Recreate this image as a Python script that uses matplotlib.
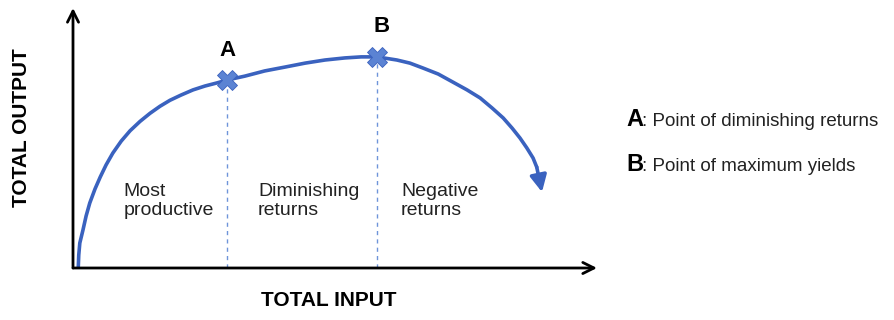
import matplotlib
matplotlib.use("Agg")
import matplotlib.pyplot as plt

plt.rcParams['font.family'] = ['Liberation Sans', 'DejaVu Sans']

# total product curve (input, output on a 0..10 scale)
total_input = [0.10, 0.11, 0.13, 0.19, 0.25, 0.32, 0.42, 0.52, 0.63, 0.76, 0.92,
               1.09, 1.28, 1.47, 1.66, 1.85, 2.06, 2.29, 2.52, 2.75, 2.94, 3.28,
               3.66, 4.05, 4.43, 4.81, 5.19, 5.50, 5.80, 6.18, 6.43, 6.68, 6.97,
               7.25, 7.52, 7.77, 8.00, 8.21, 8.38, 8.53, 8.66, 8.78, 8.85, 8.95]
total_output = [0.00, 0.50, 0.96, 1.46, 2.00, 2.50, 3.04, 3.50, 3.96, 4.42, 4.88,
                5.28, 5.64, 5.95, 6.22, 6.45, 6.65, 6.85, 7.00, 7.12, 7.23, 7.38,
                7.58, 7.73, 7.88, 8.00, 8.08, 8.12, 8.12, 8.00, 7.88, 7.69, 7.46,
                7.15, 6.85, 6.54, 6.15, 5.77, 5.38, 5.00, 4.62, 4.23, 3.88, 2.92]

point_names = ['A', 'B']
point_input = [2.94, 5.80]
point_output = [7.23, 8.12]
point_desc = ['Point of diminishing returns', 'Point of maximum yields']

stage_labels = ['Most\nproductive', 'Diminishing\nreturns', 'Negative\nreturns']
stage_x = [0.97, 3.53, 6.26]

BLUE = '#3A62BF'
MARK = '#5B83D3'
DASH = '#6F94DA'

fig = plt.figure(figsize=(8.94, 3.2), dpi=100)
ax = fig.add_axes([73 / 894, 52 / 320, 524 / 894, 260 / 320])
ax.set_xlim(0, 10)
ax.set_ylim(0, 10)
ax.axis('off')

# axes with open arrowheads
for tip in [(1, 0), (0, 1)]:
    ax.annotate('', xy=tip, xytext=(0, 0), xycoords='axes fraction',
                arrowprops=dict(arrowstyle='->', color='black', lw=2, mutation_scale=20,
                                shrinkA=0, shrinkB=0))

# curve and its arrowhead
ax.plot(total_input[:-1], total_output[:-1], color=BLUE, lw=2.6,
        solid_capstyle='round', solid_joinstyle='round')
ax.annotate('', xy=(total_input[-1], total_output[-1]),
            xytext=(total_input[-2], total_output[-2]),
            arrowprops=dict(arrowstyle='-|>', color=BLUE, lw=2.6, mutation_scale=25,
                            shrinkA=0, shrinkB=0))

# dashed drop lines and markers
for px, py in zip(point_input, point_output):
    ax.plot([px, px], [0, py], color=DASH, lw=1, ls=(0, (3, 3)))
ax.plot(point_input, point_output, ls='none', marker='X', markersize=14,
        color=MARK, markeredgecolor=BLUE, markeredgewidth=0.6)

for name, px, py in zip(point_names, point_input, point_output):
    ax.text(px + (0.08 if name == 'B' else 0), py + 0.75, name, ha='center', va='bottom',
            fontsize=16, fontweight='bold')

for lab, sx in zip(stage_labels, stage_x):
    ax.text(sx, 3.25, lab, ha='left', va='top', fontsize=14, color='#222222',
            linespacing=1.12)

fig.text(22 / 894, 1 - 128 / 320, 'TOTAL OUTPUT', rotation=90, ha='center', va='center',
         fontsize=15, fontweight='bold')
fig.text(329 / 894, 1 - 300 / 320, 'TOTAL INPUT', ha='center', va='center',
         fontsize=15, fontweight='bold')

# legend text on the right
for i, (name, desc) in enumerate(zip(point_names, point_desc)):
    yb = 1 - (126 + 45 * i) / 320
    fig.text(626 / 894, yb, name, ha='left', va='baseline', fontsize=17, fontweight='bold')
    fig.text(642 / 894, yb, ': ' + desc, ha='left', va='baseline', fontsize=13.5,
             color='#222222')

fig.savefig('out.png', dpi=100)
